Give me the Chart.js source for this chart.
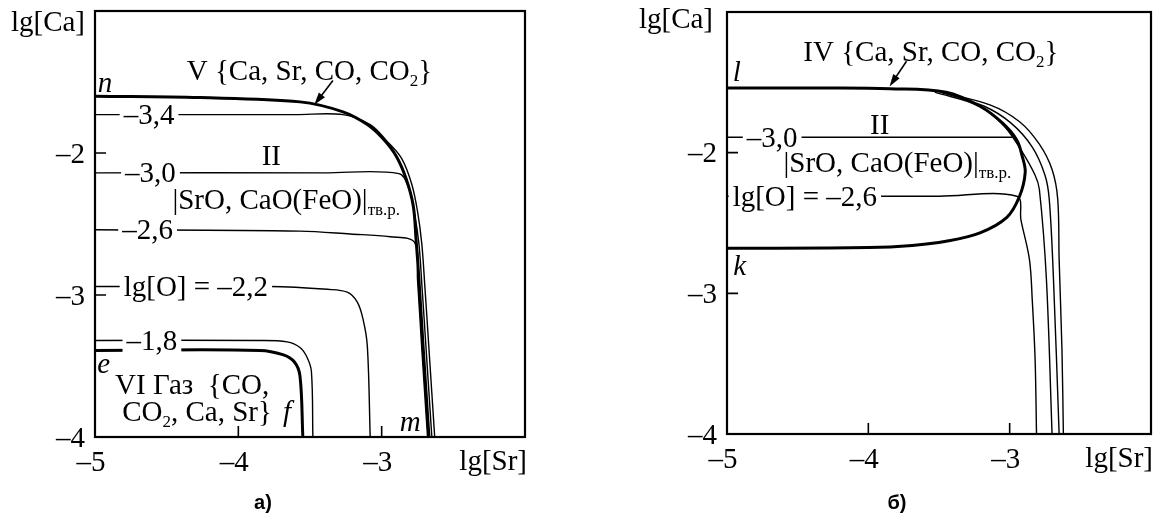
<!DOCTYPE html>
<html>
<head>
<meta charset="utf-8">
<script src="https://cdn.jsdelivr.net/npm/chart.js@4.4.1/dist/chart.umd.min.js"></script>
<style>
    html, body { margin: 0; padding: 0; background: #fff; }
    #wrap { position: relative; width: 1158px; height: 517px; }
    .panel { position: absolute; top: 0; height: 517px; }
    #leftBox { left: 0; width: 580px; }
    #rightBox { left: 580px; width: 578px; }
</style>
</head>
<body>
<div id="wrap">
    <div class="panel" id="leftBox"><canvas id="chartA"></canvas></div>
    <div class="panel" id="rightBox"><canvas id="chartB"></canvas></div>
</div>
<script>
/* Both panels: lg[Ca] against lg[Sr], iso-lines of lg[O] */

// axes (same for both panels)
const xTicks = [-5, -4, -3];
const yTicks = [-2, -3, -4];
const xMarks = [-4, -3];          // inward tick marks on the bottom axis
const yMarks = [-2, -3];          // inward tick marks on the left axis
const xRange = [-5, -2];
const yRange = [-4, -1];

// panel а) -- [lg Sr, lg Ca] pairs
const a_boundaryNM = [[-5, -1.60], [-4.27, -1.61], [-3.57, -1.64], [-3.27, -1.71], [-3.10, -1.80], [-2.99, -1.90],
    [-2.90, -2.02], [-2.83, -2.18], [-2.78, -2.37], [-2.76, -2.61], [-2.74, -2.89], [-2.71, -3.38], [-2.67, -4]];
const a_lgO_34 = [[-5, -1.73], [-3.6, -1.73], [-3.27, -1.73], [-3.08, -1.80], [-2.96, -1.92], [-2.86, -2.04],
    [-2.79, -2.22], [-2.75, -2.41], [-2.72, -2.64], [-2.70, -2.92], [-2.67, -3.38], [-2.63, -4]];
const a_lgO_30 = [[-5, -2.14], [-3.4, -2.14], [-2.88, -2.145], [-2.81, -2.25], [-2.77, -2.43], [-2.74, -2.64],
    [-2.72, -2.92], [-2.69, -3.38], [-2.65, -4]];
const a_lgO_26 = [[-5, -2.54], [-3.57, -2.55], [-3.22, -2.57], [-2.94, -2.59], [-2.77, -2.63], [-2.75, -2.89],
    [-2.72, -3.38], [-2.68, -4]];
const a_lgO_22 = [[-5, -2.94], [-3.78, -2.94], [-3.38, -2.96], [-3.24, -2.98], [-3.17, -3.05], [-3.13, -3.17],
    [-3.10, -3.36], [-3.08, -4]];
const a_lgO_18 = [[-5, -3.32], [-3.85, -3.32], [-3.66, -3.33], [-3.57, -3.37], [-3.52, -3.44], [-3.49, -3.54],
    [-3.48, -4]];
const a_boundaryEF = [[-5, -3.39], [-3.85, -3.39], [-3.69, -3.42], [-3.61, -3.47], [-3.57, -3.57], [-3.55, -4]];

// panel б)
const b_loopLK = [[-5, -1.54], [-4.3, -1.54], [-3.85, -1.545], [-3.45, -1.57], [-3.21, -1.67], [-3.05, -1.79],
    [-2.95, -1.91], [-2.91, -2.03], [-2.89, -2.14], [-2.93, -2.31], [-3.02, -2.46], [-3.21, -2.57],
    [-3.45, -2.63], [-3.69, -2.66], [-4.0, -2.675], [-5, -2.68]];
const b_outerA = [[-3.49, -1.57], [-3.14, -1.66], [-2.93, -1.78], [-2.79, -1.94], [-2.70, -2.12], [-2.66, -2.33],
    [-2.65, -2.76], [-2.63, -3.40], [-2.62, -4]];
const b_outerB = [[-3.49, -1.57], [-3.18, -1.67], [-2.99, -1.79], [-2.84, -1.96], [-2.75, -2.16], [-2.72, -2.33],
    [-2.69, -2.90], [-2.65, -4]];
const b_outerC = [[-3.53, -1.57], [-3.21, -1.67], [-3.04, -1.81], [-2.92, -1.98], [-2.82, -2.16], [-2.79, -2.26],
    [-2.74, -2.90], [-2.70, -4]];
const b_lgO_30 = [[-5, -1.89], [-2.98, -1.89]];
const b_lgO_26 = [[-5, -2.31], [-3.5, -2.31], [-2.95, -2.31], [-2.92, -2.48], [-2.86, -2.76], [-2.84, -3.05],
    [-2.82, -3.47], [-2.81, -4]];

const SERIF = '"Liberation Serif", "Times New Roman", serif';
const FONT_SIZE = 29;

function toXY(arr) {
    return arr.map(p => ({ x: p[0], y: p[1] }));
}

function lineSet(arr, width) {
    return {
        data: toXY(arr),
        showLine: true,
        borderColor: '#000',
        borderWidth: width,
        pointRadius: 0,
        tension: 0.35,
        fill: false
    };
}

// draw text made of pieces: [text] normal, [text,'sub'] subscript, [text,'it'] italic
function drawRich(ctx, parts, x, y, align, bg) {
    const fontOf = k => k === 'sub' ? `${Math.round(FONT_SIZE * 0.6)}px ${SERIF}`
        : k === 'it' ? `italic ${FONT_SIZE}px ${SERIF}` : `${FONT_SIZE}px ${SERIF}`;
    let total = 0;
    const widths = parts.map(p => {
        ctx.font = fontOf(p[1]);
        const w = ctx.measureText(p[0]).width;
        total += w;
        return w;
    });
    let cx = x;
    if (align === 'center') cx = x - total / 2;
    if (align === 'right') cx = x - total;
    if (bg) {
        ctx.fillStyle = '#fff';
        ctx.fillRect(cx - 4, y - FONT_SIZE * 0.42, total + 8, FONT_SIZE * 0.84);
    }
    ctx.fillStyle = '#000';
    ctx.textBaseline = 'alphabetic';
    ctx.textAlign = 'left';
    const base = y + FONT_SIZE * 0.33;
    parts.forEach((p, i) => {
        ctx.font = fontOf(p[1]);
        ctx.fillText(p[0], cx, p[1] === 'sub' ? base + FONT_SIZE * 0.2 : base);
        cx += widths[i];
    });
}

function makeDecor(cfg) {
    return {
        id: 'decor',
        afterDatasetsDraw(chart) {
            const ctx = chart.ctx;
            const xs = chart.scales.x, ys = chart.scales.y;
            const a = chart.chartArea;
            ctx.save();

            // labels inside the plot
            cfg.labels.forEach(l => {
                drawRich(ctx, l.parts, xs.getPixelForValue(l.x), ys.getPixelForValue(l.y), l.align || 'left', l.bg);
            });

            // arrow pointing at the boundary
            const ar = cfg.arrow;
            const x1 = xs.getPixelForValue(ar.from[0]), y1 = ys.getPixelForValue(ar.from[1]);
            const x2 = xs.getPixelForValue(ar.to[0]), y2 = ys.getPixelForValue(ar.to[1]);
            const ang = Math.atan2(y2 - y1, x2 - x1);
            ctx.strokeStyle = '#000';
            ctx.lineWidth = 1.6;
            ctx.beginPath();
            ctx.moveTo(x1, y1);
            ctx.lineTo(x2 - 8 * Math.cos(ang), y2 - 8 * Math.sin(ang));
            ctx.stroke();
            ctx.fillStyle = '#000';
            ctx.beginPath();
            ctx.moveTo(x2, y2);
            ctx.lineTo(x2 - 13 * Math.cos(ang - 0.3), y2 - 13 * Math.sin(ang - 0.3));
            ctx.lineTo(x2 - 13 * Math.cos(ang + 0.3), y2 - 13 * Math.sin(ang + 0.3));
            ctx.closePath();
            ctx.fill();

            // frame
            ctx.lineWidth = 2.2;
            ctx.strokeRect(a.left, a.top, a.right - a.left, a.bottom - a.top);

            // inward tick marks
            ctx.lineWidth = 1.6;
            ctx.beginPath();
            xMarks.forEach(v => {
                const px = xs.getPixelForValue(v);
                ctx.moveTo(px, a.bottom);
                ctx.lineTo(px, a.bottom - 11);
            });
            yMarks.forEach(v => {
                const py = ys.getPixelForValue(v);
                ctx.moveTo(a.left, py);
                ctx.lineTo(a.left + 11, py);
            });
            ctx.stroke();

            // tick labels
            xTicks.forEach(v => {
                drawRich(ctx, [['\u2013' + Math.abs(v)]], xs.getPixelForValue(v) - 4, a.bottom + 24, 'center');
            });
            yTicks.forEach(v => {
                drawRich(ctx, [['\u2013' + Math.abs(v)]], a.left - 10, ys.getPixelForValue(v), 'right');
            });

            // axis titles
            drawRich(ctx, [['lg[Ca]']], a.left - cfg.yTitleGap, a.top + cfg.yTitleDy, 'right');
            drawRich(ctx, [['lg[Sr]']], a.right + 2, a.bottom + 23, 'right');

            // panel caption
            ctx.font = `bold 20px "Liberation Sans", Arial, sans-serif`;
            ctx.textAlign = 'center';
            ctx.textBaseline = 'middle';
            ctx.fillText(cfg.caption, cfg.captionX, 503);
            ctx.restore();
        }
    };
}

function buildChart(canvasId, sets, padding, decor) {
    return new Chart(document.getElementById(canvasId).getContext('2d'), {
        type: 'scatter',
        data: { datasets: sets },
        options: {
            responsive: true,
            maintainAspectRatio: false,
            animation: false,
            layout: { padding: padding },
            plugins: { legend: { display: false }, tooltip: { enabled: false } },
            scales: {
                x: { type: 'linear', min: xRange[0], max: xRange[1], display: false },
                y: { type: 'linear', min: yRange[0], max: yRange[1], display: false }
            }
        },
        plugins: [makeDecor(decor)]
    });
}

const thin = 1.4, thick = 3;

buildChart('chartA', [
    lineSet(a_lgO_34, thin), lineSet(a_lgO_30, thin), lineSet(a_lgO_26, thin),
    lineSet(a_lgO_22, thin), lineSet(a_lgO_18, thin),
    lineSet(a_boundaryNM, thick), lineSet(a_boundaryEF, thick)
], { left: 95, top: 11, right: 55, bottom: 80 }, {
    caption: '\u0430)', captionX: 263, yTitleGap: 10, yTitleDy: 10,
    arrow: { from: [-3.34, -1.49], to: [-3.47, -1.66] },
    labels: [
        { x: -4.36, y: -1.42, parts: [['V {Ca, Sr, CO, CO'], ['2', 'sub'], ['}']] },
        { x: -4.93, y: -1.50, parts: [['n', 'it']], align: 'center' },
        { x: -4.80, y: -1.73, parts: [['\u20133,4']], bg: true },
        { x: -3.77, y: -2.02, parts: [['II']], align: 'center' },
        { x: -4.79, y: -2.14, parts: [['\u20133,0']], bg: true },
        { x: -4.46, y: -2.33, parts: [['|SrO, CaO(FeO)|'], ['\u0442\u0432.\u0440.', 'sub']] },
        { x: -4.81, y: -2.54, parts: [['\u20132,6']], bg: true },
        { x: -4.80, y: -2.94, parts: [['lg[O] = \u20132,2']], bg: true },
        { x: -4.78, y: -3.32, parts: [['\u20131,8']], bg: true },
        { x: -4.94, y: -3.48, parts: [['e', 'it']], align: 'center' },
        { x: -4.86, y: -3.63, parts: [['VI \u0413\u0430\u0437  {CO,']] },
        { x: -4.81, y: -3.82, parts: [['CO'], ['2', 'sub'], [', Ca, Sr}']] },
        { x: -3.66, y: -3.82, parts: [['f', 'it']], align: 'center' },
        { x: -2.80, y: -3.89, parts: [['m', 'it']], align: 'center' }
    ]
});

buildChart('chartB', [
    lineSet(b_lgO_30, thin), lineSet(b_lgO_26, thin),
    lineSet(b_outerA, thin), lineSet(b_outerB, thin), lineSet(b_outerC, thin),
    lineSet(b_loopLK, thick)
], { left: 147, top: 12, right: 7, bottom: 83 }, {
    caption: '\u0431)', captionX: 317, yTitleGap: 14, yTitleDy: 6,
    arrow: { from: [-3.73, -1.35], to: [-3.85, -1.53] },
    labels: [
        { x: -4.46, y: -1.28, parts: [['IV {Ca, Sr, CO, CO'], ['2', 'sub'], ['}']] },
        { x: -4.93, y: -1.42, parts: [['l', 'it']], align: 'center' },
        { x: -3.92, y: -1.80, parts: [['II']], align: 'center' },
        { x: -4.86, y: -1.89, parts: [['\u20133,0']], bg: true },
        { x: -4.60, y: -2.07, parts: [['|SrO, CaO(FeO)|'], ['\u0442\u0432.\u0440.', 'sub']] },
        { x: -4.96, y: -2.31, parts: [['lg[O] = \u20132,6']], bg: true },
        { x: -4.91, y: -2.80, parts: [['k', 'it']], align: 'center' }
    ]
});
</script>
</body>
</html>
